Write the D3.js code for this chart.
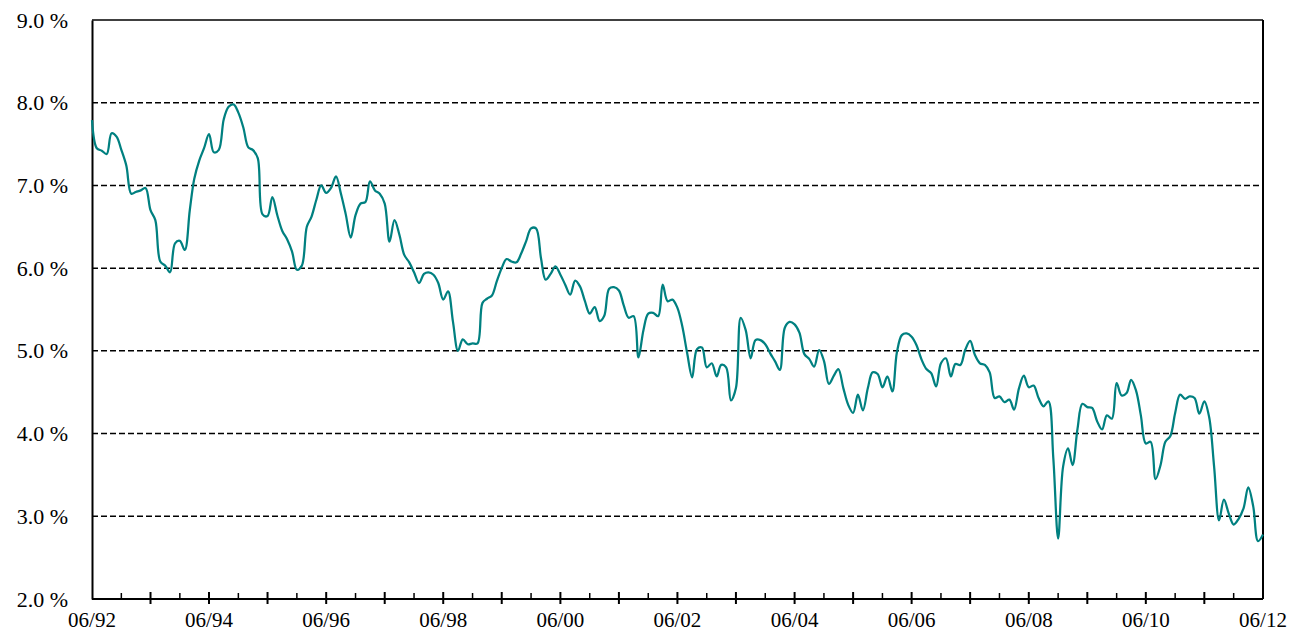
<!DOCTYPE html>
<html>
<head>
<meta charset="utf-8">
<script src="https://cdn.jsdelivr.net/npm/d3@7"></script>
<style>
  body { margin: 0; background: #fff; }
  svg text { font-family: "Liberation Serif", "DejaVu Serif", serif; fill: #000; }
</style>
</head>
<body>
<div id="chart"></div>
<script>
// monthly values, 06/1992 .. 06/2012 (%)
const startMonth = new Date(1992, 5, 1)
const values = [
  7.79, 7.45, 7.42, 7.38, 7.63, 7.59, 7.43, 7.24, 6.90, 6.92, 6.94, 6.97,
  6.70, 6.58, 6.08, 6.03, 5.95, 6.30, 6.33, 6.22, 6.70, 7.08, 7.30, 7.45,
  7.62, 7.40, 7.43, 7.80, 7.95, 7.98, 7.88, 7.70, 7.46, 7.43, 7.33, 6.65,
  6.63, 6.86, 6.64, 6.45, 6.35, 6.20, 5.98, 6.03, 6.50, 6.62, 6.83, 7.00,
  6.91, 6.97, 7.11, 6.90, 6.65, 6.37, 6.64, 6.78, 6.80, 7.05, 6.94, 6.90,
  6.78, 6.32, 6.58, 6.40, 6.16, 6.07, 5.95, 5.82, 5.93, 5.95, 5.92, 5.82,
  5.62, 5.72, 5.35, 5.00, 5.14, 5.08, 5.09, 5.09, 5.58, 5.63, 5.67, 5.84,
  6.00, 6.11, 6.08, 6.07, 6.18, 6.33, 6.48, 6.48, 6.12, 5.86, 5.93, 6.02,
  5.92, 5.80, 5.68, 5.85, 5.78, 5.60, 5.45, 5.53, 5.36, 5.42, 5.75, 5.77,
  5.73, 5.55, 5.40, 5.42, 4.92, 5.25, 5.45, 5.46, 5.42, 5.80, 5.60, 5.62,
  5.52, 5.30, 4.97, 4.68, 5.02, 5.04, 4.80, 4.85, 4.69, 4.83, 4.80, 4.40,
  4.55, 5.40, 5.25, 4.91, 5.13, 5.13, 5.08, 4.97, 4.87, 4.77, 5.28, 5.35,
  5.32, 5.22, 4.96, 4.90, 4.81, 5.01, 4.88, 4.60, 4.70, 4.78, 4.55, 4.35,
  4.25, 4.47, 4.28, 4.55, 4.74, 4.72, 4.56, 4.69, 4.51, 4.98, 5.19, 5.21,
  5.17, 5.07, 4.90, 4.78, 4.73, 4.57, 4.85, 4.91, 4.69, 4.84, 4.83, 5.01,
  5.12, 4.95, 4.85, 4.83, 4.74, 4.43, 4.45, 4.38, 4.41, 4.29, 4.55, 4.70,
  4.56, 4.58, 4.43, 4.33, 4.39, 3.70, 2.73, 3.60, 3.82, 3.62, 4.06, 4.36,
  4.32, 4.31, 4.15, 4.05, 4.22, 4.18, 4.61, 4.46, 4.49, 4.65, 4.52, 4.22,
  3.88, 3.90, 3.45, 3.62, 3.90, 3.97, 4.25, 4.47, 4.42, 4.45, 4.43, 4.24,
  4.39, 4.20, 3.60, 2.95, 3.20, 3.03, 2.90, 2.97, 3.10, 3.35, 3.12, 2.70,
  2.78
]
const yTicks = [2, 3, 4, 5, 6, 7, 8, 9]
const xLabelYears = [1992, 1994, 1996, 1998, 2000, 2002, 2004, 2006, 2008, 2010, 2012]

const serif = '"Liberation Serif", "DejaVu Serif", serif'

let width = 1297
let height = 639
let margin = {top: 20, right: 34, bottom: 40, left: 92}
let innerWidth = width - margin.left - margin.right
let innerHeight = height - margin.top - margin.bottom

const data = values.map(function(v, i) {
  return {date: d3.timeMonth.offset(startMonth, i), value: v}
})

const svg = d3.select('#chart')
              .append('svg')
              .attr('width', width)
              .attr('height', height)

const g = svg.append('g').attr('transform', 'translate(' + margin.left + ',' + margin.top + ')')

let x = d3.scaleTime()
      .domain([startMonth, new Date(2012, 5, 1)])
      .range([0, innerWidth])

let y = d3.scaleLinear()
      .domain([2, 9])
      .range([innerHeight, 0])

// dashed grid
g.selectAll('.grid')
  .data(yTicks.filter(function(d) { return d > 2 && d < 9 }))
  .enter().append('line')
  .attr('class', 'grid')
  .attr('x1', 0)
  .attr('x2', innerWidth)
  .attr('y1', function(d) { return y(d) })
  .attr('y2', function(d) { return y(d) })
  .attr('stroke', '#000')
  .attr('stroke-width', 1.5)
  .attr('stroke-dasharray', '6,3')

// frame (top + right)
g.append('line')
  .attr('x1', 0).attr('x2', innerWidth)
  .attr('y1', y(9)).attr('y2', y(9))
  .attr('stroke', '#000').attr('stroke-width', 1.5)
g.append('line')
  .attr('x1', innerWidth).attr('x2', innerWidth)
  .attr('y1', y(9)).attr('y2', y(2))
  .attr('stroke', '#000').attr('stroke-width', 2)

// y axis labels
const yAxis = g.append('g')
  .call(d3.axisLeft(y).tickValues(yTicks).tickSize(0).tickPadding(24)
        .tickFormat(function(d) { return d.toFixed(1) + ' %' }))
yAxis.attr('font-family', serif)
yAxis.select('.domain').attr('stroke', '#000').attr('stroke-width', 2)
yAxis.selectAll('text')
  .style('font-family', serif)
  .style('font-size', '22px')

// x axis: minor ticks every half year, major every year, labels every 2 years
const minorDates = d3.range(0, 41).filter(function(i) { return i % 2 === 1 })
  .map(function(i) { return d3.timeMonth.offset(startMonth, i * 6) })
const majorDates = d3.range(1, 20).map(function(i) { return new Date(1992 + i, 5, 1) })

const xg = g.append('g').attr('transform', 'translate(0,' + innerHeight + ')')

xg.selectAll('.minor')
  .data(minorDates)
  .enter().append('line')
  .attr('x1', function(d) { return x(d) })
  .attr('x2', function(d) { return x(d) })
  .attr('y1', -6).attr('y2', 0)
  .attr('stroke', '#000').attr('stroke-width', 1.5)

xg.selectAll('.major')
  .data(majorDates)
  .enter().append('line')
  .attr('x1', function(d) { return x(d) })
  .attr('x2', function(d) { return x(d) })
  .attr('y1', -7).attr('y2', 5)
  .attr('stroke', '#000').attr('stroke-width', 2)

xg.append('line')
  .attr('x1', 0).attr('x2', innerWidth)
  .attr('stroke', '#000').attr('stroke-width', 2)

xg.selectAll('.xlabel')
  .data(xLabelYears)
  .enter().append('text')
  .attr('x', function(d) { return x(new Date(d, 5, 1)) })
  .attr('y', 28)
  .attr('text-anchor', 'middle')
  .style('font-family', serif)
  .style('font-size', '21px')
  .text(function(d) { return '06/' + String(d).slice(2) })

// series line
const line = d3.line()
  .x(function(d) { return x(d.date) })
  .y(function(d) { return y(d.value) })
  .curve(d3.curveCatmullRom.alpha(0.5))

g.append('path')
  .datum(data)
  .attr('fill', 'none')
  .attr('stroke', '#008080')
  .attr('stroke-width', 2.25)
  .attr('d', line)
</script>
</body>
</html>
